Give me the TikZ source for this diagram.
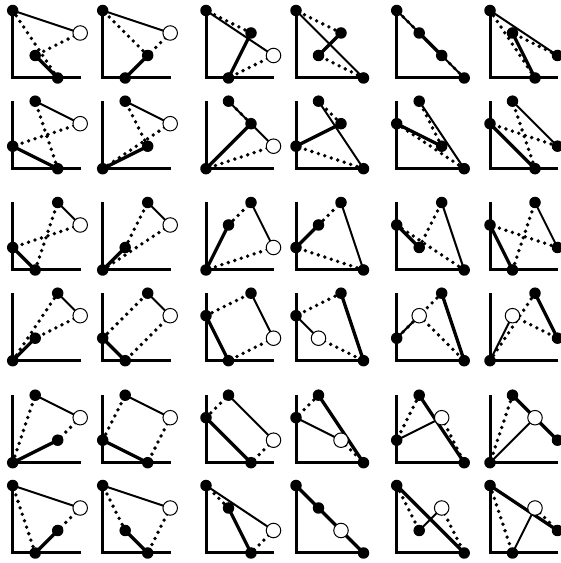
\documentclass[tikz,border=0pt]{standalone}
\usetikzlibrary{calc}
\tikzset{
  axisln/.style={line width=3pt,line join=miter},
  thinln/.style={line width=2pt},
  thickln/.style={line width=3.3pt},
  dotln/.style={line width=3.8pt,line cap=round,dash pattern=on 0pt off 6.8pt},
  fdot/.style={circle,fill=black,inner sep=0pt,minimum size=11.5pt},
  odot/.style={circle,draw=black,fill=white,line width=1pt,inner sep=0pt,minimum size=14.5pt},
}
\newcommand\pnl[8]{%
  \begin{scope}[shift={(#2pt,#3pt)},x=22.5pt,y=22.5pt]
    \draw[axisln] (0,3) -- (0,0) -- (3.03,0);
    \coordinate (#1a) at (#4);
    \coordinate (#1b) at (#5);
    \coordinate (#1c) at (#6);
    \coordinate (#1d) at (#7);
    \draw[thinln] (#1a) -- (#1b);
    \draw[dotln] (#1b) -- (#1c);
    \draw[dotln] (#1d) -- (#1a);
    \draw[thickln] (#1c) -- (#1d);
    \node[fdot] (#1A) at (#1a) {};
    \node[#8] (#1B) at (#1b) {};
    \node[fdot] (#1C) at (#1c) {};
    \node[fdot] (#1D) at (#1d) {};
  \end{scope}}
\begin{document}
\begin{tikzpicture}[x=1pt,y=1pt]
\useasboundingbox (0,0) rectangle (561,563);
% row 1
\pnl{pa}{12.7}{485}{0,3}{3,2}{1,1}{2,0}{odot}
\pnl{pb}{102.7}{485}{0,3}{3,2}{1,0}{2,1}{odot}
\pnl{pc}{206}{485}{0,3}{3,1}{1,0}{2,2}{odot}
\pnl{pd}{296}{485}{0,3}{3,0}{1,1}{2,2}{fdot}
\pnl{pe}{396.7}{485}{0,3}{3,0}{1,2}{2,1}{fdot}
\pnl{pf}{490}{485}{0,3}{3,1}{1,2}{2,0}{fdot}
% row 2
\pnl{pg}{12.7}{394.3}{1,3}{3,2}{0,1}{2,0}{odot}
\pnl{ph}{102.7}{394.3}{1,3}{3,2}{0,0}{2,1}{odot}
\pnl{pi}{206}{394.3}{1,3}{3,1}{0,0}{2,2}{odot}
\pnl{pj}{296}{394.3}{1,3}{3,0}{0,1}{2,2}{fdot}
\pnl{pk}{396.7}{394.3}{1,3}{3,0}{0,2}{2,1}{fdot}
\pnl{pl}{490}{394.3}{1,3}{3,1}{0,2}{2,0}{fdot}
% row 3
\pnl{pm}{12.7}{293}{2,3}{3,2}{0,1}{1,0}{odot}
\pnl{pn}{102.7}{293}{2,3}{3,2}{0,0}{1,1}{odot}
\pnl{po}{206}{293}{2,3}{3,1}{0,0}{1,2}{odot}
\pnl{pp}{296}{293}{2,3}{3,0}{0,1}{1,2}{fdot}
\pnl{pq}{396.7}{293}{2,3}{3,0}{0,2}{1,1}{fdot}
\pnl{pr}{490}{293}{2,3}{3,1}{0,2}{1,0}{fdot}
% row 4
\pnl{ps}{12.7}{202.3}{2,3}{3,2}{1,1}{0,0}{odot}
\pnl{pt}{102.7}{202.3}{2,3}{3,2}{1,0}{0,1}{odot}
\pnl{pu}{206}{202.3}{2,3}{3,1}{1,0}{0,2}{odot}
\pnl{pv}{296}{202.3}{0,2}{1,1}{3,0}{2,3}{odot}
\pnl{pw}{396.7}{202.3}{0,1}{1,2}{3,0}{2,3}{odot}
\pnl{px}{490}{202.3}{0,0}{1,2}{3,1}{2,3}{odot}
% row 5
\pnl{qa}{12.7}{100.3}{1,3}{3,2}{2,1}{0,0}{odot}
\pnl{qb}{102.7}{100.3}{1,3}{3,2}{2,0}{0,1}{odot}
\pnl{qc}{206}{100.3}{1,3}{3,1}{2,0}{0,2}{odot}
\pnl{qd}{296}{100.3}{0,2}{2,1}{3,0}{1,3}{odot}
\pnl{qe}{396.7}{100.3}{0,1}{2,2}{3,0}{1,3}{odot}
\pnl{qf}{490}{100.3}{0,0}{2,2}{3,1}{1,3}{odot}
% row 6
\pnl{qg}{12.7}{10}{0,3}{3,2}{2,1}{1,0}{odot}
\pnl{qh}{102.7}{10}{0,3}{3,2}{2,0}{1,1}{odot}
\pnl{qi}{206}{10}{0,3}{3,1}{2,0}{1,2}{odot}
\pnl{qj}{296}{10}{1,2}{2,1}{3,0}{0,3}{odot}
\pnl{qk}{396.7}{10}{1,1}{2,2}{3,0}{0,3}{odot}
\pnl{ql}{490}{10}{1,0}{2,2}{3,1}{0,3}{odot}
\end{tikzpicture}
\end{document}
